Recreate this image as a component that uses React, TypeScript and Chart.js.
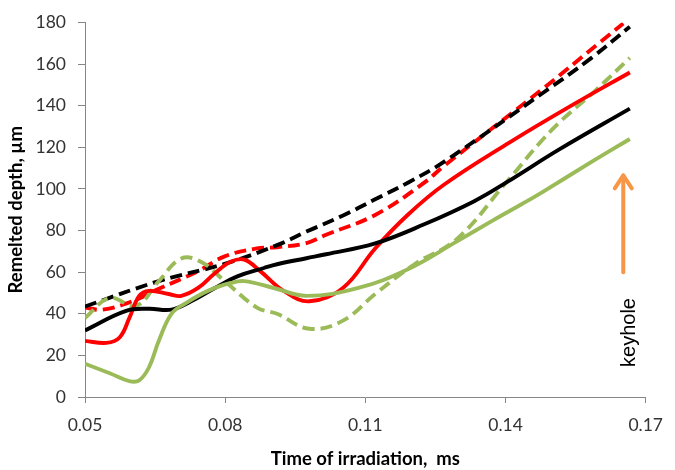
import React, { useEffect, useRef } from "react";
import { Chart, registerables } from "chart.js";

Chart.register(...registerables);

// ---- Axis definitions ----
const X_MIN = 0.05;
const X_MAX = 0.17;
const X_STEP = 0.03;
const Y_MIN = 0;
const Y_MAX = 180;
const Y_STEP = 20;

const X_TITLE = "Time of irradiation,  ms";
const Y_TITLE = "Remelted depth, µm";

// ---- Series data (time in ms, depth in µm) ----
const blackDashedX = [0.05, 0.0658, 0.0799, 0.0911, 0.0974, 0.105, 0.1121, 0.1191, 0.1268, 0.1479, 0.1584, 0.1666];
const blackDashedY = [43.5, 55.7, 64, 73, 79.5, 87, 95, 103, 113, 146, 163, 178];

const redDashedX = [0.05, 0.0538, 0.0601, 0.0658, 0.0742, 0.0799, 0.0868, 0.0911, 0.0974, 0.1016, 0.1121, 0.1226, 0.1268, 0.1479, 0.1605, 0.1652];
const redDashedY = [43, 42, 46, 52, 60.5, 67.6, 71.4, 72, 74, 78, 87.5, 103, 111, 148, 171, 179.5];

const greenDashedX = [0.05, 0.0553, 0.0609, 0.0658, 0.0706, 0.0748, 0.0799, 0.0868, 0.0911, 0.098, 0.1052, 0.1121, 0.1205, 0.1296, 0.1401, 0.15, 0.1591, 0.1666];
const greenDashedY = [38, 47.6, 43.8, 55.7, 66.6, 65, 55.7, 43, 40, 32.8, 36.7, 49.5, 63.8, 76, 103, 128.6, 147, 163];

const blackSolidX = [0.05, 0.0588, 0.0637, 0.0685, 0.0727, 0.0778, 0.0826, 0.0883, 0.0911, 0.0974, 0.1016, 0.1121, 0.1226, 0.1332, 0.1401, 0.1515, 0.1666];
const blackSolidY = [32, 41.4, 42.4, 42, 46, 52.4, 58, 62, 63.8, 66.7, 68.6, 73.8, 83, 94, 103, 119, 138.6];

const redSolidX = [0.05, 0.0546, 0.0574, 0.0595, 0.0616, 0.0637, 0.0679, 0.0706, 0.0742, 0.0778, 0.0812, 0.0841, 0.0875, 0.0925, 0.098, 0.1052, 0.1121, 0.1191, 0.1268, 0.1409, 0.1548, 0.1666];
const redSolidY = [27, 26, 28.6, 38, 48.6, 51, 49.5, 48.6, 52.4, 59.5, 65, 66, 60.5, 51, 46, 52.4, 71.4, 87.6, 102, 122.4, 141, 156];

const greenSolidX = [0.05, 0.0553, 0.0595, 0.0616, 0.0637, 0.0658, 0.0685, 0.0715, 0.0763, 0.0812, 0.0841, 0.0904, 0.0974, 0.1085, 0.1191, 0.1296, 0.1374, 0.1437, 0.1479, 0.1584, 0.1666];
const greenSolidY = [16, 11.4, 7.6, 8, 14.3, 27, 40, 45, 51, 54.8, 55.7, 52.4, 48.6, 52.4, 61.4, 74.8, 85, 93, 98.5, 113, 124];

// ---- Annotation (keyhole arrow) ----
const ARROW_X = 0.1652;
const ARROW_Y_FROM = 60;
const ARROW_Y_TO = 107;
const KEYHOLE_LABEL = "keyhole";
const KEYHOLE_X = 0.1665;
const KEYHOLE_Y = 31;

const BLACK = "#000000";
const RED = "#ff0000";
const GREEN = "#9bbb59";
const ORANGE = "#f79646";
const AXIS_GRAY = "#868686";
const TICK_TEXT = "#333333";

const toPoints = (xs: number[], ys: number[]) => xs.map((x, i) => ({ x, y: ys[i] }));

const keyholePlugin = {
  id: "keyhole",
  afterDatasetsDraw(chart: any) {
    const { ctx, scales } = chart;
    const xs = scales.x;
    const ys = scales.y;
    const ax = xs.getPixelForValue(ARROW_X);
    const y0 = ys.getPixelForValue(ARROW_Y_FROM);
    const y1 = ys.getPixelForValue(ARROW_Y_TO);
    ctx.save();
    ctx.strokeStyle = ORANGE;
    ctx.lineWidth = 4;
    ctx.lineCap = "round";
    ctx.lineJoin = "round";
    ctx.beginPath();
    ctx.moveTo(ax, y0);
    ctx.lineTo(ax, y1 + 1);
    ctx.stroke();
    ctx.beginPath();
    ctx.moveTo(ax - 8.5, y1 + 14);
    ctx.lineTo(ax, y1 + 1);
    ctx.lineTo(ax + 8.5, y1 + 14);
    ctx.stroke();

    const tx = xs.getPixelForValue(KEYHOLE_X);
    const ty = ys.getPixelForValue(KEYHOLE_Y);
    ctx.translate(tx, ty);
    ctx.rotate(-Math.PI / 2);
    ctx.fillStyle = "#000000";
    ctx.font = '20px "Liberation Sans", Arial, sans-serif';
    ctx.textAlign = "center";
    ctx.textBaseline = "middle";
    ctx.fillText(KEYHOLE_LABEL, 0, 0);
    ctx.restore();
  },
};

export default function App() {
  const canvasRef = useRef<HTMLCanvasElement | null>(null);

  useEffect(() => {
    if (!canvasRef.current) return;
    const dashed = [12, 6];
    const lw = 3.9;
    const mk = (label: string, xs: number[], ys: number[], color: string, dash: number[]) => ({
      label,
      data: toPoints(xs, ys),
      borderColor: color,
      backgroundColor: color,
      borderWidth: lw,
      borderDash: dash,
      pointRadius: 0,
      pointHoverRadius: 0,
      tension: 0.4,
      fill: false,
      borderCapStyle: "butt" as const,
    });
    const chart = new Chart(canvasRef.current, {
      type: "line",
      data: {
        datasets: [
          mk("Green solid", greenSolidX, greenSolidY, GREEN, []),
          mk("Black solid", blackSolidX, blackSolidY, BLACK, []),
          mk("Red solid", redSolidX, redSolidY, RED, []),
          mk("Green dashed", greenDashedX, greenDashedY, GREEN, dashed),
          mk("Black dashed", blackDashedX, blackDashedY, BLACK, dashed),
          mk("Red dashed", redDashedX, redDashedY, RED, dashed),
        ],
      },
      options: {
        responsive: false,
        animation: false,
        events: [],
        layout: { padding: { top: 19, right: 20, left: 0, bottom: 0 } },
        plugins: {
          legend: { display: false },
          tooltip: { enabled: false },
          title: { display: false },
        },
        scales: {
          x: {
            type: "linear",
            min: X_MIN,
            max: X_MAX,
            afterFit: (scale: any) => {
              scale.height = 73;
            },
            ticks: {
              stepSize: X_STEP,
              color: TICK_TEXT,
              font: { family: "Lato", size: 17.5 },
              padding: 12,
              maxRotation: 0,
              callback: (v: any) => Number(v).toFixed(2),
            },
            grid: {
              drawOnChartArea: false,
              drawTicks: true,
              tickLength: 6,
              color: AXIS_GRAY,
            },
            border: { display: true, color: AXIS_GRAY, width: 1 },
            title: {
              display: true,
              text: X_TITLE,
              color: "#000000",
              font: { family: "Lato", size: 18.5, weight: "bold" },
              padding: { top: 0, bottom: 0 },
            },
          },
          y: {
            type: "linear",
            min: Y_MIN,
            max: Y_MAX,
            afterFit: (scale: any) => {
              scale.width = 85;
            },
            ticks: {
              stepSize: Y_STEP,
              color: TICK_TEXT,
              font: { family: "Lato", size: 17.5 },
              padding: 12,
            },
            grid: {
              drawOnChartArea: false,
              drawTicks: true,
              tickLength: 7,
              color: AXIS_GRAY,
            },
            border: { display: true, color: AXIS_GRAY, width: 1 },
            title: {
              display: true,
              text: Y_TITLE,
              color: "#000000",
              font: { family: "Lato", size: 18.5, weight: "bold" },
              padding: { top: 5, bottom: 0 },
            },
          },
        },
      },
      plugins: [keyholePlugin],
    });
    return () => chart.destroy();
  }, []);

  return (
    <div style={{ position: "absolute", left: 0, top: 0, width: 675, height: 470, background: "#ffffff" }}>
      <canvas ref={canvasRef} width={675} height={470} style={{ display: "block" }} />
    </div>
  );
}
